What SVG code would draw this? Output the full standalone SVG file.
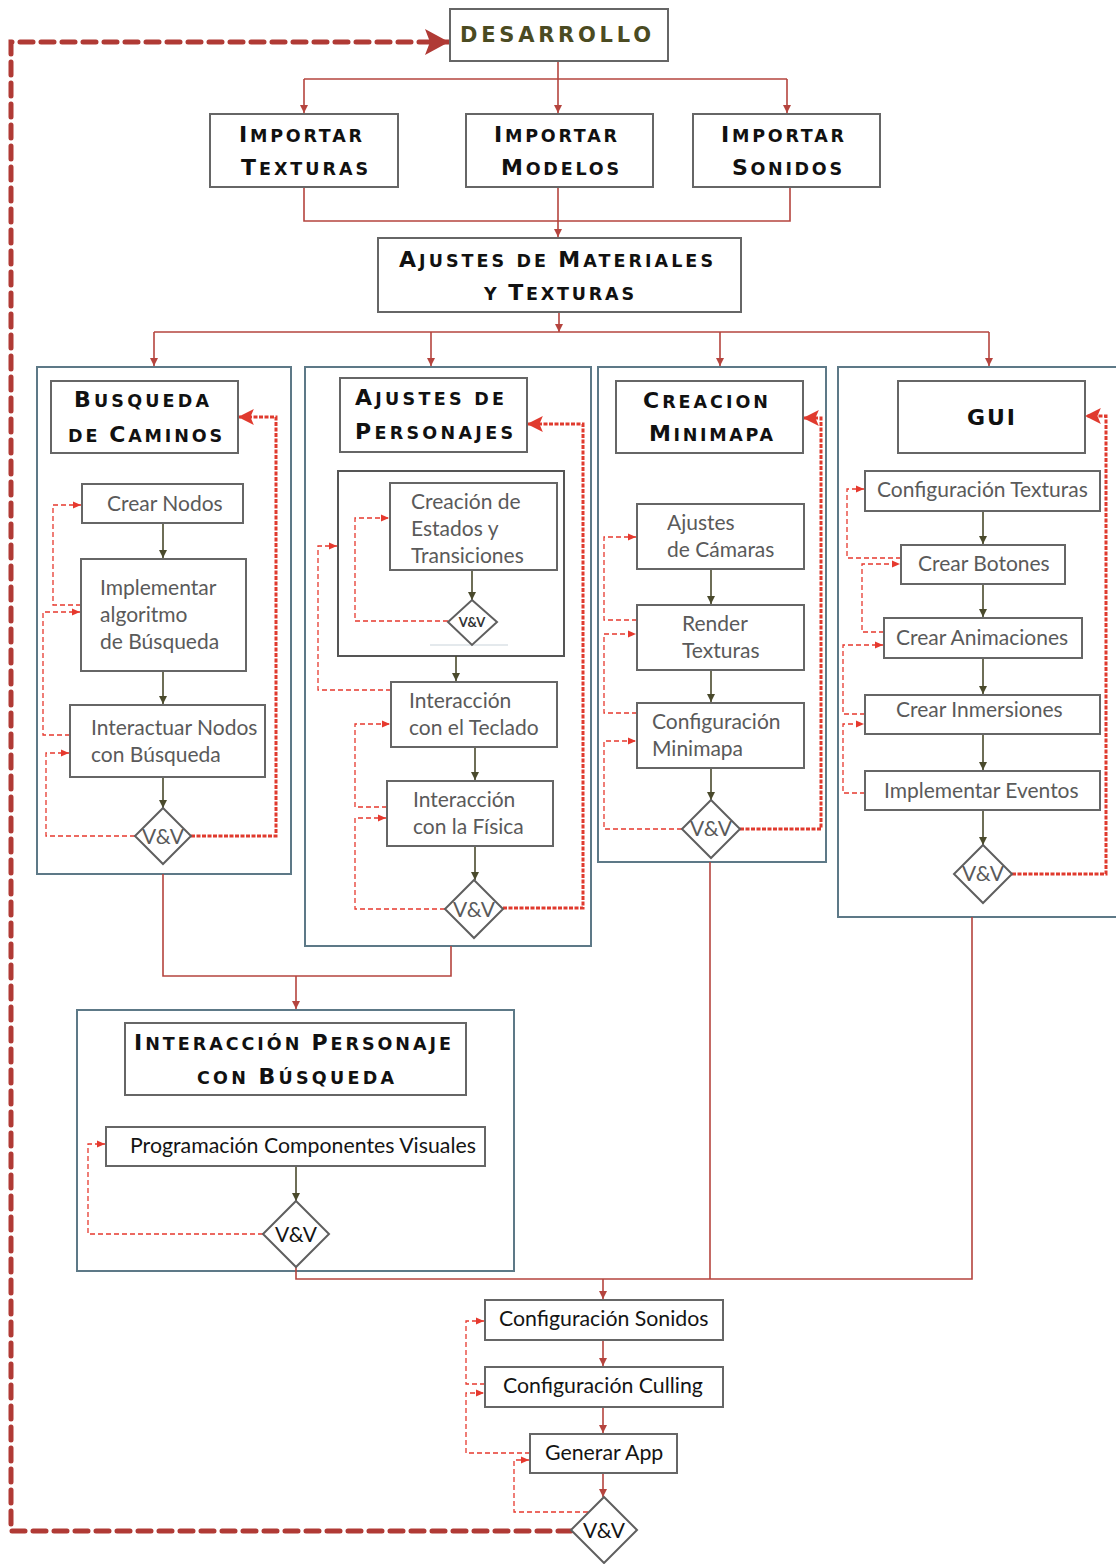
<svg xmlns="http://www.w3.org/2000/svg" width="1116" height="1564" viewBox="0 0 1116 1564">
  <style>
    .box { fill: #ffffff; stroke: #666666; stroke-width: 2; }
    .cont { fill: none; stroke: #5d7987; stroke-width: 2; }
    .dia { fill: #ffffff; stroke: #5f5f5f; stroke-width: 2; }
    .hd { font-family: "DejaVu Sans", "Liberation Sans", sans-serif; font-weight: bold; font-size: 17.5px; fill: #111111; }
    .hd .c { font-size: 22px; }
    .dev { font-family: "DejaVu Sans", "Liberation Sans", sans-serif; font-weight: bold; font-size: 21px; fill: #4b4b22; }
    .t { font-family: Lato, "Open Sans", sans-serif; font-size: 21px; fill: #5a5a5a; }
    .tb { font-family: Lato, "Open Sans", sans-serif; font-size: 21.3px; fill: #141414; }
    .vv { font-family: Lato, "Open Sans", sans-serif; font-size: 21px; fill: #5a5a5a; text-anchor: middle; }
    .vvb { font-family: Lato, "Open Sans", sans-serif; font-size: 21px; fill: #141414; text-anchor: middle; }
    .flow { fill: none; stroke: #b5443e; stroke-width: 1.6; }
    .step { fill: none; stroke: #4a4a2c; stroke-width: 1.6; }
    .back { fill: none; stroke: #e6392e; stroke-width: 1.3; stroke-dasharray: 5 3; }
    .loop { fill: none; stroke: #e03a2e; stroke-width: 3; stroke-dasharray: 4 1.5; }
    .cycle { fill: none; stroke: #b03a35; stroke-width: 5; stroke-dasharray: 13 8; stroke-linecap: round; }
  </style>
  <defs>
    <marker id="aFlow" viewBox="0 0 8 8" refX="8" refY="4" markerWidth="8" markerHeight="8" markerUnits="userSpaceOnUse" orient="auto">
      <path d="M0,0 L8,4 L0,8 z" fill="#b5443e"/>
    </marker>
    <marker id="aStep" viewBox="0 0 8 8" refX="8" refY="4" markerWidth="8" markerHeight="8" markerUnits="userSpaceOnUse" orient="auto">
      <path d="M0,0 L8,4 L0,8 z" fill="#4a4a2c"/>
    </marker>
    <marker id="aBack" viewBox="0 0 8 8" refX="8" refY="4" markerWidth="8" markerHeight="8" markerUnits="userSpaceOnUse" orient="auto">
      <path d="M0,0.5 L8,4 L0,7.5 z" fill="#e6392e"/>
    </marker>
    <marker id="aLoop" viewBox="0 0 14 14" refX="13" refY="7" markerWidth="16" markerHeight="16" markerUnits="userSpaceOnUse" orient="auto">
      <path d="M0,0 L14,7 L0,14 L3,7 z" fill="#e03a2e"/>
    </marker>
    <marker id="aCycle" viewBox="0 0 24 26" refX="24" refY="13" markerWidth="24" markerHeight="26" markerUnits="userSpaceOnUse" orient="auto">
      <path d="M0,0 L24,13 L0,26 L5,13 z" fill="#b03a35"/>
    </marker>
  </defs>

  <!-- column containers -->
  <g id="containers">
    <rect id="c-busqueda" class="cont" x="37" y="367" width="254" height="507"/>
    <rect id="c-personajes" class="cont" x="305" y="367" width="286" height="579"/>
    <rect id="c-minimapa" class="cont" x="598" y="367" width="228" height="495"/>
    <rect id="c-gui" class="cont" x="838" y="367" width="290" height="550"/>
    <rect id="c-interaccion" class="cont" x="77" y="1010" width="437" height="261"/>
    <rect id="c-estados" x="338" y="471" width="226" height="185" fill="none" stroke="#555555" stroke-width="2"/>
    <line x1="430" y1="645" x2="508" y2="645" stroke="#c9d3da" stroke-width="1"/>
  </g>

  <!-- connectors -->
  <g id="connectors">
    <!-- main flow -->
    <path class="flow" d="M304,79 H787"/>
    <path class="flow" d="M558,61 V113" marker-end="url(#aFlow)"/>
    <path class="flow" d="M304,79 V113" marker-end="url(#aFlow)"/>
    <path class="flow" d="M787,79 V113" marker-end="url(#aFlow)"/>
    <path class="flow" d="M304,187 V221 H790 V187"/>
    <path class="flow" d="M558,187 V237" marker-end="url(#aFlow)"/>
    <path class="flow" d="M559,312 V332" marker-end="url(#aFlow)"/>
    <path class="flow" d="M154,332 H989"/>
    <path class="flow" d="M154,332 V366" marker-end="url(#aFlow)"/>
    <path class="flow" d="M431,332 V366" marker-end="url(#aFlow)"/>
    <path class="flow" d="M720,332 V366" marker-end="url(#aFlow)"/>
    <path class="flow" d="M989,332 V366" marker-end="url(#aFlow)"/>
    <path class="flow" d="M163,874 V976 H451 V946"/>
    <path class="flow" d="M296,976 V1009" marker-end="url(#aFlow)"/>
    <path class="flow" d="M296,1267 V1279 H972 V917"/>
    <path class="flow" d="M710,862 V1279"/>
    <path class="flow" d="M603,1279 V1299" marker-end="url(#aFlow)"/>
    <path class="flow" d="M603,1340 V1366" marker-end="url(#aFlow)"/>
    <path class="flow" d="M603,1407 V1433" marker-end="url(#aFlow)"/>
    <path class="flow" d="M603,1473 V1497" marker-end="url(#aFlow)"/>

    <!-- steps inside columns -->
    <path class="step" d="M163,523 V558" marker-end="url(#aStep)"/>
    <path class="step" d="M163,671 V704" marker-end="url(#aStep)"/>
    <path class="step" d="M163,777 V808" marker-end="url(#aStep)"/>
    <path class="step" d="M472,570 V600" marker-end="url(#aStep)"/>
    <path class="step" d="M456,656 V681" marker-end="url(#aStep)"/>
    <path class="step" d="M475,747 V780" marker-end="url(#aStep)"/>
    <path class="step" d="M475,846 V880" marker-end="url(#aStep)"/>
    <path class="step" d="M711,569 V604" marker-end="url(#aStep)"/>
    <path class="step" d="M711,670 V702" marker-end="url(#aStep)"/>
    <path class="step" d="M711,768 V800" marker-end="url(#aStep)"/>
    <path class="step" d="M983,511 V544" marker-end="url(#aStep)"/>
    <path class="step" d="M983,584 V617" marker-end="url(#aStep)"/>
    <path class="step" d="M983,658 V694" marker-end="url(#aStep)"/>
    <path class="step" d="M983,734 V770" marker-end="url(#aStep)"/>
    <path class="step" d="M983,810 V845" marker-end="url(#aStep)"/>
    <path class="step" d="M296,1166 V1201" marker-end="url(#aStep)"/>

    <!-- rework returns -->
    <path class="back" d="M81,605 H53 V505 H81" marker-end="url(#aBack)"/>
    <path class="back" d="M70,735 H43 V612 H80" marker-end="url(#aBack)"/>
    <path class="back" d="M135,836 H46 V753 H69" marker-end="url(#aBack)"/>
    <path class="back" d="M448,621 H355 V518 H389" marker-end="url(#aBack)"/>
    <path class="back" d="M391,690 H318 V546 H337" marker-end="url(#aBack)"/>
    <path class="back" d="M387,807 H355 V724 H390" marker-end="url(#aBack)"/>
    <path class="back" d="M445,909 H355 V818 H386" marker-end="url(#aBack)"/>
    <path class="back" d="M637,620 H604 V537 H636" marker-end="url(#aBack)"/>
    <path class="back" d="M637,713 H604 V634 H636" marker-end="url(#aBack)"/>
    <path class="back" d="M682,829 H604 V741 H636" marker-end="url(#aBack)"/>
    <path class="back" d="M901,558 H847 V489 H864" marker-end="url(#aBack)"/>
    <path class="back" d="M884,632 H862 V564 H900" marker-end="url(#aBack)"/>
    <path class="back" d="M865,714 H843 V645 H883" marker-end="url(#aBack)"/>
    <path class="back" d="M865,793 H843 V724 H864" marker-end="url(#aBack)"/>
    <path class="back" d="M263,1234 H88 V1144 H105" marker-end="url(#aBack)"/>
    <path class="back" d="M485,1384 H466 V1321 H484" marker-end="url(#aBack)"/>
    <path class="back" d="M530,1453 H466 V1393 H484" marker-end="url(#aBack)"/>
    <path class="back" d="M588,1512 H514 V1460 H529" marker-end="url(#aBack)"/>

    <!-- verification loops back to each block header -->
    <path class="loop" d="M191,836 H276 V417 H239" marker-end="url(#aLoop)"/>
    <path class="loop" d="M503,908 H583 V424 H528" marker-end="url(#aLoop)"/>
    <path class="loop" d="M740,829 H821 V418 H804" marker-end="url(#aLoop)"/>
    <path class="loop" d="M1012,874 H1106 V416 H1086" marker-end="url(#aLoop)"/>

    <!-- iteration cycle -->
    <path class="cycle" d="M571,1531 H11 V42 H449" marker-end="url(#aCycle)"/>
  </g>

  <!-- top-level stages -->
  <g id="desarrollo">
    <rect class="box" x="450" y="9" width="218" height="52"/>
    <text class="dev" x="460" y="42" textLength="191" lengthAdjust="spacing">DESARROLLO</text>
  </g>
  <g id="importar-texturas">
    <rect class="box" x="210" y="114" width="188" height="73"/>
    <text class="hd" x="239" y="142" textLength="123" lengthAdjust="spacing"><tspan class="c">I</tspan>MPORTAR</text>
    <text class="hd" x="241" y="175" textLength="127" lengthAdjust="spacing"><tspan class="c">T</tspan>EXTURAS</text>
  </g>
  <g id="importar-modelos">
    <rect class="box" x="466" y="114" width="187" height="73"/>
    <text class="hd" x="494" y="142" textLength="123" lengthAdjust="spacing"><tspan class="c">I</tspan>MPORTAR</text>
    <text class="hd" x="501" y="175" textLength="118" lengthAdjust="spacing"><tspan class="c">M</tspan>ODELOS</text>
  </g>
  <g id="importar-sonidos">
    <rect class="box" x="693" y="114" width="187" height="73"/>
    <text class="hd" x="721" y="142" textLength="123" lengthAdjust="spacing"><tspan class="c">I</tspan>MPORTAR</text>
    <text class="hd" x="732" y="175" textLength="110" lengthAdjust="spacing"><tspan class="c">S</tspan>ONIDOS</text>
  </g>
  <g id="ajustes-materiales">
    <rect class="box" x="378" y="238" width="363" height="74"/>
    <text class="hd" x="399" y="267" textLength="314" lengthAdjust="spacing"><tspan class="c">A</tspan>JUSTES DE <tspan class="c">M</tspan>ATERIALES</text>
    <text class="hd" x="484" y="300" textLength="150" lengthAdjust="spacing">Y <tspan class="c">T</tspan>EXTURAS</text>
  </g>

  <!-- Busqueda de caminos -->
  <g id="busqueda-caminos">
    <rect class="box" x="51" y="381" width="187" height="72"/>
    <text class="hd" x="74" y="407" textLength="135" lengthAdjust="spacing"><tspan class="c">B</tspan>USQUEDA</text>
    <text class="hd" x="68" y="442" textLength="154" lengthAdjust="spacing">DE <tspan class="c">C</tspan>AMINOS</text>
  </g>
  <g id="crear-nodos">
    <rect class="box" x="82" y="484" width="161" height="39"/>
    <text class="t" x="107" y="511">Crear Nodos</text>
  </g>
  <g id="implementar-algoritmo">
    <rect class="box" x="81" y="559" width="165" height="112"/>
    <text class="t" x="100" y="595">Implementar</text>
    <text class="t" x="100" y="622">algoritmo</text>
    <text class="t" x="100" y="649">de Búsqueda</text>
  </g>
  <g id="interactuar-nodos">
    <rect class="box" x="70" y="705" width="195" height="72"/>
    <text class="t" x="91" y="735">Interactuar Nodos</text>
    <text class="t" x="91" y="762">con Búsqueda</text>
  </g>
  <g id="vv-busqueda">
    <path class="dia" d="M163,808 L191,836 L163,864 L135,836 z"/>
    <text class="vv" x="163" y="844">V&amp;V</text>
  </g>

  <!-- Ajustes de personajes -->
  <g id="ajustes-personajes">
    <rect class="box" x="340" y="378" width="187" height="74"/>
    <text class="hd" x="355" y="405" textLength="149" lengthAdjust="spacing"><tspan class="c">A</tspan>JUSTES DE</text>
    <text class="hd" x="355" y="439" textLength="158" lengthAdjust="spacing"><tspan class="c">P</tspan>ERSONAJES</text>
  </g>
  <g id="estados-transiciones">
    <rect class="box" x="390" y="483" width="167" height="87"/>
    <text class="t" x="411" y="509">Creación de</text>
    <text class="t" x="411" y="536">Estados y</text>
    <text class="t" x="411" y="563">Transiciones</text>
  </g>
  <g id="vv-estados">
    <path class="dia" d="M472,600 L497,622 L472,645 L448,622 z" stroke-width="1.5"/>
    <text x="472" y="627" font-family="Lato, 'Open Sans', sans-serif" font-size="13" font-weight="bold" fill="#333333" text-anchor="middle">V&amp;V</text>
  </g>
  <g id="interaccion-teclado">
    <rect class="box" x="391" y="682" width="166" height="65"/>
    <text class="t" x="409" y="708">Interacción</text>
    <text class="t" x="409" y="735">con el Teclado</text>
  </g>
  <g id="interaccion-fisica">
    <rect class="box" x="387" y="781" width="166" height="65"/>
    <text class="t" x="413" y="807">Interacción</text>
    <text class="t" x="413" y="834">con la Física</text>
  </g>
  <g id="vv-personajes">
    <path class="dia" d="M474,880 L503,909 L474,938 L445,909 z"/>
    <text class="vv" x="474" y="917">V&amp;V</text>
  </g>

  <!-- Creacion minimapa -->
  <g id="creacion-minimapa">
    <rect class="box" x="616" y="381" width="187" height="72"/>
    <text class="hd" x="643" y="408" textLength="125" lengthAdjust="spacing"><tspan class="c">C</tspan>REACION</text>
    <text class="hd" x="649" y="441" textLength="124" lengthAdjust="spacing"><tspan class="c">M</tspan>INIMAPA</text>
  </g>
  <g id="ajustes-camaras">
    <rect class="box" x="637" y="504" width="167" height="65"/>
    <text class="t" x="667" y="530">Ajustes</text>
    <text class="t" x="667" y="557">de Cámaras</text>
  </g>
  <g id="render-texturas">
    <rect class="box" x="637" y="605" width="167" height="65"/>
    <text class="t" x="682" y="631">Render</text>
    <text class="t" x="682" y="658">Texturas</text>
  </g>
  <g id="configuracion-minimapa">
    <rect class="box" x="637" y="703" width="167" height="65"/>
    <text class="t" x="652" y="729">Configuración</text>
    <text class="t" x="652" y="756">Minimapa</text>
  </g>
  <g id="vv-minimapa">
    <path class="dia" d="M711,800 L740,829 L711,858 L682,829 z"/>
    <text class="vv" x="711" y="836">V&amp;V</text>
  </g>

  <!-- GUI -->
  <g id="gui">
    <rect class="box" x="898" y="381" width="187" height="72"/>
    <text class="hd" x="967" y="425" textLength="48" lengthAdjust="spacing"><tspan class="c">GUI</tspan></text>
  </g>
  <g id="configuracion-texturas">
    <rect class="box" x="865" y="471" width="235" height="40"/>
    <text class="t" x="877" y="497">Configuración Texturas</text>
  </g>
  <g id="crear-botones">
    <rect class="box" x="901" y="545" width="164" height="39"/>
    <text class="t" x="918" y="571">Crear Botones</text>
  </g>
  <g id="crear-animaciones">
    <rect class="box" x="884" y="618" width="198" height="40"/>
    <text class="t" x="896" y="645">Crear Animaciones</text>
  </g>
  <g id="crear-inmersiones">
    <rect class="box" x="865" y="695" width="235" height="39"/>
    <text class="t" x="896" y="717">Crear Inmersiones</text>
  </g>
  <g id="implementar-eventos">
    <rect class="box" x="865" y="771" width="235" height="39"/>
    <text class="t" x="884" y="798">Implementar Eventos</text>
  </g>
  <g id="vv-gui">
    <path class="dia" d="M983,845 L1012,874 L983,903 L954,874 z"/>
    <text class="vv" x="983" y="881">V&amp;V</text>
  </g>

  <!-- Interaccion personaje con busqueda -->
  <g id="interaccion-personaje">
    <rect class="box" x="125" y="1023" width="341" height="72"/>
    <text class="hd" x="134" y="1050" textLength="317" lengthAdjust="spacing"><tspan class="c">I</tspan>NTERACCIÓN <tspan class="c">P</tspan>ERSONAJE</text>
    <text class="hd" x="197" y="1084" textLength="197" lengthAdjust="spacing">CON <tspan class="c">B</tspan>ÚSQUEDA</text>
  </g>
  <g id="componentes-visuales">
    <rect class="box" x="106" y="1127" width="379" height="39"/>
    <text class="tb" x="130" y="1153">Programación Componentes Visuales</text>
  </g>
  <g id="vv-interaccion">
    <path class="dia" d="M296,1201 L329,1234 L296,1267 L263,1234 z"/>
    <text class="vvb" x="296" y="1242">V&amp;V</text>
  </g>

  <!-- final stages -->
  <g id="configuracion-sonidos">
    <rect class="box" x="485" y="1300" width="238" height="40"/>
    <text class="tb" x="499" y="1326">Configuración Sonidos</text>
  </g>
  <g id="configuracion-culling">
    <rect class="box" x="485" y="1367" width="238" height="40"/>
    <text class="tb" x="503" y="1393">Configuración Culling</text>
  </g>
  <g id="generar-app">
    <rect class="box" x="530" y="1434" width="147" height="39"/>
    <text class="tb" x="545" y="1460">Generar App</text>
  </g>
  <g id="vv-final">
    <path class="dia" d="M604,1497 L637,1530 L604,1563 L571,1530 z"/>
    <text class="vvb" x="604" y="1538">V&amp;V</text>
  </g>
</svg>
